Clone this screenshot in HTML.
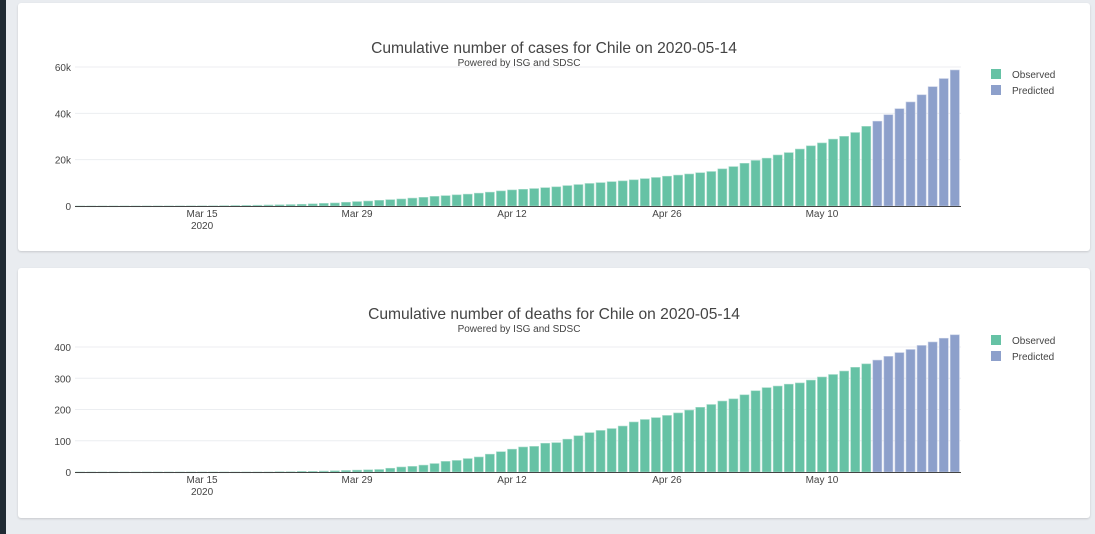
<!DOCTYPE html>
<html><head><meta charset="utf-8">
<style>
body{margin:0;width:1095px;height:534px;background:#e9ecf0;position:relative;overflow:hidden;font-family:"Liberation Sans",sans-serif;}
#strip{position:absolute;left:0;top:0;width:6px;height:534px;background:#1f2a33;}
.card{position:absolute;left:18px;width:1072px;background:#fff;border-radius:3px;box-shadow:0 1px 2px rgba(0,0,0,0.15);}
svg{position:absolute;left:0;top:0;}
</style></head>
<body>
<div id="strip"></div>
<div class="card" style="top:3px;height:248px"></div>
<div class="card" style="top:268px;height:250px"></div>
<svg id="chart" width="1095" height="534"></svg>
<script>
const casesObserved=[1,3,4,5,7,10,13,17,23,33,43,61,75,156,201,238,342,434,537,632,746,922,1142,1306,1610,1909,2139,2449,2738,3031,3404,3737,4161,4471,4815,5116,5546,5972,6501,6927,7213,7525,7917,8273,8807,9252,9730,10088,10507,10832,11296,11812,12306,12858,13331,13813,14365,14885,16023,17008,18435,19663,20643,22016,23048,24581,25972,27219,28866,30063,31721,34381];
const casesPredicted=[36600,39400,42000,44900,48000,51500,55000,58700];
const deathsObserved=[0,0,0,0,0,0,0,0,0,0,0,0,0,0,0,0,0,0,1,1,2,2,3,4,5,6,7,8,12,16,18,22,27,34,37,43,48,57,65,73,80,82,92,94,105,116,126,133,139,147,160,168,174,181,189,198,207,216,227,234,247,260,270,275,281,285,294,304,312,323,335,346];
const deathsPredicted=[358,370,382,392,405,416,428,439];
const xTickLabels=["Mar 15","Mar 29","Apr 12","Apr 26","May 10"];
const xTickIndex=[11,25,39,53,67];
const casesTicks=[0,20000,40000,60000];
const casesTickLabels=["0","20k","40k","60k"];
const deathsTicks=[0,100,200,300,400];
const deathsTickLabels=["0","100","200","300","400"];

const NS="http://www.w3.org/2000/svg";
const svg=document.getElementById('chart');
function mk(tag,attrs,parent,text){const e=document.createElementNS(NS,tag);for(const k in attrs)e.setAttribute(k,attrs[k]);if(text!==undefined)e.textContent=text;(parent||svg).appendChild(e);return e;}
const X0=80.3,DX=11.07;
function xScale(i){return X0+i*DX;}

function drawChart(cfg){
  const g=mk('g',{});
  
  
  const yS=v=>cfg.y0-(v/cfg.vmax)*(cfg.y0-cfg.ytop);
  cfg.ticks.forEach((t,k)=>{
    const y=yS(t);
    if(k>0){const gl=mk('line',{x1:75,x2:961,y1:y,y2:y,stroke:'#eceef1','stroke-width':1},g);
      }
    const tl=mk('text',{x:71,y:y+4,'text-anchor':'end','font-size':10,fill:'#444'},g,cfg.tickLabels[k]);
    
  });
  const bw=DX*0.82;
  function bars(arr,off,color,stroke,nm){
    arr.forEach((v,i)=>{
      const y=yS(v);const h=cfg.y0-y;
      const r=mk('rect',{x:xScale(i+off)-bw/2,y:y,width:bw,height:Math.max(h,0.8),fill:color,stroke:stroke,'stroke-width':0.6},g);
      
    });
  }
  bars(cfg.obs,0,'#66c2a5','#a8dccb','bar-observed');
  bars(cfg.pred,cfg.obs.length,'#8da0cb','#c2cbe3','bar-predicted');
  const ax=mk('line',{x1:75,x2:961,y1:cfg.y0+0.5,y2:cfg.y0+0.5,stroke:'#444','stroke-width':1},g);
  
  xTickIndex.forEach((ti,k)=>{
    const x=xScale(ti);
    const tl=mk('text',{x:x,y:cfg.y0+11,'text-anchor':'middle','font-size':10,fill:'#444'},g,xTickLabels[k]);
    
    if(k===0){const yl=mk('text',{x:x,y:cfg.y0+23,'text-anchor':'middle','font-size':10,fill:'#444'},g,'2020');
      }
  });
  const t=mk('text',{x:554,y:cfg.titleY,'text-anchor':'middle','font-size':15.6,fill:'#444'},g,cfg.title);
  
  const st=mk('text',{x:519,y:cfg.titleY+13,'text-anchor':'middle','font-size':10,fill:'#444'},g,'Powered by ISG and SDSC');
  
  [['Observed','#66c2a5'],['Predicted','#8da0cb']].forEach((l,k)=>{
    const y=cfg.legY+k*16;
    const sw=mk('rect',{x:991,y:y-5,width:10,height:10,fill:l[1]},g);
    
    const lt=mk('text',{x:1012,y:y+4,'font-size':10,fill:'#444'},g,l[0]);
    
  });
}
drawChart({name:'cases-chart',obs:casesObserved,pred:casesPredicted,ticks:casesTicks,tickLabels:casesTickLabels,vmax:60000,y0:206,ytop:67,title:'Cumulative number of cases for Chile on 2020-05-14',titleY:53,legY:74});
drawChart({name:'deaths-chart',obs:deathsObserved,pred:deathsPredicted,ticks:deathsTicks,tickLabels:deathsTickLabels,vmax:400,y0:472,ytop:347,title:'Cumulative number of deaths for Chile on 2020-05-14',titleY:319,legY:340});
</script>
</body></html>
